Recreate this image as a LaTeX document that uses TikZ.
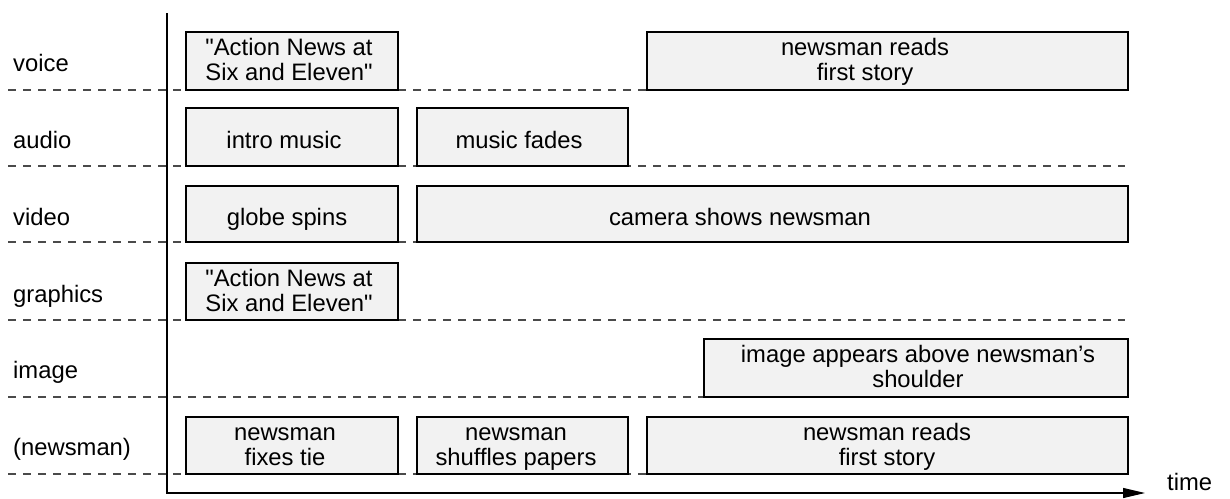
\documentclass[tikz,border=0pt]{standalone}
\usepackage{fontspec}
\setmainfont{Liberation Sans}[Ligatures=TeXOff]
\usetikzlibrary{arrows.meta}
\definecolor{boxfill}{HTML}{F2F2F2}
\definecolor{dashgray}{HTML}{4A4A4A}
\newcommand\fsz{\fontsize{23.8}{25}\selectfont}
\begin{document}
\begin{tikzpicture}[x=1pt,y=-1pt,
  box/.style={draw=black, line width=1.1pt, fill=boxfill, inner sep=0pt},
  txt/.style={font=\fsz, align=center, inner sep=0pt},
  lbl/.style={font=\fsz, inner sep=0pt, anchor=base west},
  gridline/.style={draw=dashgray, line width=1.2pt, dash pattern=on 8pt off 7pt},
  axisline/.style={draw=black, line width=1.1pt}]
\useasboundingbox (0,0) rectangle (1230,498);

% dashed row separators
\foreach \yy/\nm in {90/r1,166/r2,242/r3,320/r4,397/r5,474/r6}{
  \coordinate (\nm a) at (8,\yy);
  \coordinate (\nm b) at (1125,\yy);
  \draw[gridline] (\nm a) -- (\nm b);
}

% axes
\coordinate (axtop) at (167,13);
\coordinate (axorg) at (167,493);
\coordinate (axend) at (1145,493);
\draw[axisline, -{Triangle[length=22pt,width=10pt]}] (axtop) -- (axorg) -- (axend);
\node[lbl] (time) at (1167,490) {time};

% row labels
\node[lbl] (lvoice) at (13,71) {voice};
\node[lbl] (laudio) at (13,148) {audio};
\node[lbl] (lvideo) at (13,225) {video};
\node[lbl] (lgraph) at (13,302) {graphics};
\node[lbl] (limage) at (13,378) {image};
\node[lbl] (lnews) at (13,455) {(newsman)};

% voice
\node[box, minimum width=212pt, minimum height=58pt] (v1) at (292,61) {};
\node[txt] (v1t) at (289,63) {\strut"Action News at\\\strut Six and Eleven"};
\node[box, minimum width=481pt, minimum height=58pt] (v2) at (887.5,61) {};
\node[txt] (v2t) at (865,63) {\strut newsman reads\\\strut first story};

% audio
\node[box, minimum width=212pt, minimum height=58pt] (a1) at (292,137) {};
\node[txt] (a1t) at (284,143.5) {\strut intro music};
\node[box, minimum width=211pt, minimum height=58pt] (a2) at (522.5,137) {};
\node[txt] (a2t) at (519,143.5) {\strut music fades};

% video
\node[box, minimum width=212pt, minimum height=56pt] (vd1) at (292,214) {};
\node[txt] (vd1t) at (287,220.5) {\strut globe spins};
\node[box, minimum width=711pt, minimum height=56pt] (vd2) at (772.5,214) {};
\node[txt] (vd2t) at (740,220.5) {\strut camera shows newsman};

% graphics
\node[box, minimum width=212pt, minimum height=57pt] (g1) at (292,291.5) {};
\node[txt] (g1t) at (289,293.5) {\strut"Action News at\\\strut Six and Eleven"};

% image
\node[box, minimum width=424pt, minimum height=58pt] (im1) at (916,368) {};
\node[txt] (im1t) at (918,370) {\strut image appears above newsman’s\\\strut shoulder};

% newsman
\node[box, minimum width=212pt, minimum height=57pt] (n1) at (292,445.5) {};
\node[txt] (n1t) at (285,447.5) {\strut newsman\\\strut fixes tie};
\node[box, minimum width=211pt, minimum height=57pt] (n2) at (522.5,445.5) {};
\node[txt] (n2t) at (516,447.5) {\strut newsman\\\strut shuffles papers};
\node[box, minimum width=481pt, minimum height=57pt] (n3) at (887.5,445.5) {};
\node[txt] (n3t) at (887,447.5) {\strut newsman reads\\\strut first story};
\end{tikzpicture}
\end{document}
